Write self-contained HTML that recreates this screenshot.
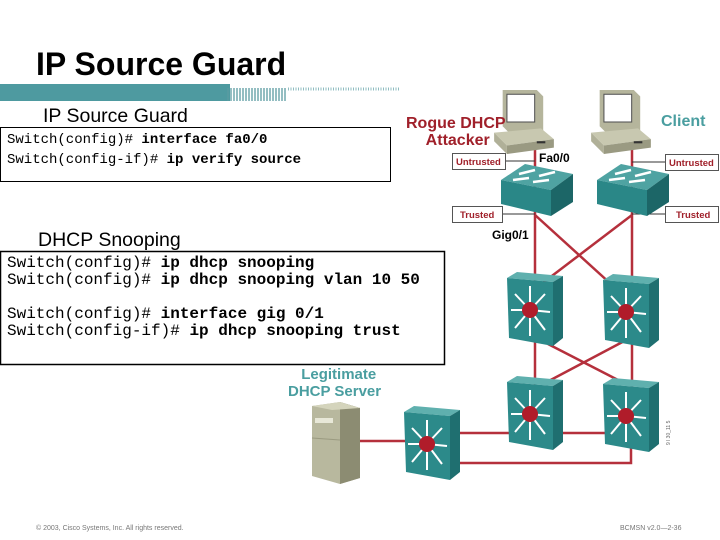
<!DOCTYPE html>
<html><head><meta charset="utf-8"><style>
body{margin:0;width:720px;height:540px;background:#fff;overflow:hidden;position:relative;font-family:"Liberation Sans",sans-serif}
.t{position:absolute;white-space:pre}
.mono{font-family:"Liberation Mono",monospace;font-size:14px;color:#000}
.mono b{font-weight:bold}
</style></head><body>
<svg width="720" height="540" style="position:absolute;left:0;top:0">
<defs>
<symbol id="ml" viewBox="0 0 60 76" width="60" height="76">
<polygon points="2,6 48,10 58,4 12,0" fill="#5fb0ae"/>
<polygon points="48,10 58,4 58,66 48,74" fill="#1f6f70"/>
<polygon points="2,6 48,10 48,74 4,66" fill="#2c8a8a"/>
<g stroke="#fff" stroke-width="2">
<line x1="25" y1="38" x2="25" y2="14"/><line x1="25" y1="38" x2="25" y2="64"/>
<line x1="25" y1="38" x2="6" y2="38"/><line x1="25" y1="38" x2="45" y2="40"/>
<line x1="25" y1="38" x2="10" y2="22"/><line x1="25" y1="38" x2="40" y2="22"/>
<line x1="25" y1="38" x2="10" y2="56"/><line x1="25" y1="38" x2="40" y2="58"/>
</g>
<ellipse cx="25" cy="38" rx="8" ry="8" fill="#b01c2a"/>
</symbol>
<symbol id="sw" viewBox="0 0 76 56" width="76" height="56">
<polygon points="2,16 52,26 74,10 26,0" fill="#4fa3a2"/>
<polygon points="2,16 52,26 52,52 2,40" fill="#2a8787"/>
<polygon points="52,26 74,10 74,38 52,52" fill="#1c6667"/>
<g stroke="#fff" stroke-width="2.5"><line x1="20" y1="10" x2="36" y2="6"/><line x1="40" y1="12" x2="56" y2="8"/><line x1="14" y1="16" x2="30" y2="14"/><line x1="34" y1="18" x2="50" y2="16"/></g>
</symbol>
<symbol id="pc" viewBox="0 0 56 60" width="56" height="60">
<polygon points="8,0 40,0 46,6 46,38 14,40 8,34" fill="#b5b59c"/>
<rect x="12" y="4" width="26" height="26" fill="#fff" stroke="#555"/>
<polygon points="0,40 44,36 56,46 12,52" fill="#c8c8b0"/>
<polygon points="12,52 56,46 56,54 12,60" fill="#9a9a82"/>
<polygon points="0,40 12,52 12,60 0,48" fill="#b0b098"/>
<rect x="40" y="48" width="8" height="2" fill="#333"/>
</symbol>
</defs>
<rect x="0" y="84" width="222" height="17" fill="#4e9aa0"/>
<polygon points="210,101 222,84 230,84 230,101" fill="#4e9aa0"/>
<g stroke="#5a9ca2" stroke-width="1.3">
<line x1="228" y1="88" x2="228" y2="101"/><line x1="231" y1="88" x2="231" y2="101"/><line x1="234" y1="88" x2="234" y2="101"/><line x1="237" y1="88" x2="237" y2="101"/><line x1="240" y1="88" x2="240" y2="101"/><line x1="243" y1="88" x2="243" y2="101"/><line x1="246" y1="88" x2="246" y2="101"/><line x1="249" y1="88" x2="249" y2="101"/><line x1="252" y1="88" x2="252" y2="101"/><line x1="255" y1="88" x2="255" y2="101"/><line x1="258" y1="88" x2="258" y2="101"/><line x1="261" y1="88" x2="261" y2="101"/><line x1="264" y1="88" x2="264" y2="101"/><line x1="267" y1="88" x2="267" y2="101"/><line x1="270" y1="88" x2="270" y2="101"/><line x1="273" y1="88" x2="273" y2="101"/><line x1="276" y1="88" x2="276" y2="101"/><line x1="279" y1="88" x2="279" y2="101"/><line x1="282" y1="88" x2="282" y2="101"/><line x1="285" y1="88" x2="285" y2="101"/>
</g>
<line x1="288" y1="89" x2="400" y2="89" stroke="#8fbcc0" stroke-width="3" stroke-dasharray="1 1.5"/>
<rect x="0.5" y="127.5" width="390" height="54" fill="#fff" stroke="#000"/>
<rect x="0.5" y="251.5" width="444" height="113" fill="#fff" stroke="#000" stroke-width="1.5"/>
<g stroke="#b5303c" stroke-width="2.5" fill="none">
<line x1="535" y1="150" x2="535" y2="290"/>
<line x1="632" y1="150" x2="632" y2="290"/>
<line x1="535" y1="215" x2="612" y2="285"/>
<line x1="632" y1="215" x2="540" y2="285"/>
<line x1="535" y1="340" x2="535" y2="400"/>
<line x1="632" y1="340" x2="632" y2="400"/>
<line x1="548" y1="344" x2="618" y2="380"/>
<line x1="630" y1="338" x2="545" y2="383"/>
<line x1="357" y1="441" x2="410" y2="441"/>
<line x1="455" y1="433" x2="520" y2="433"/>
<line x1="560" y1="433" x2="615" y2="433"/>
<polyline points="455,463 631,463 631,440"/>
</g>
<g stroke="#333" stroke-width="1"><line x1="506" y1="161" x2="535" y2="161"/><line x1="503" y1="214" x2="535" y2="214"/><line x1="632" y1="162" x2="665" y2="162"/><line x1="632" y1="214" x2="665" y2="214"/></g>
<use href="#pc" x="494" y="90" width="60" height="64"/>
<use href="#pc" x="591" y="90" width="60" height="64"/>
<use href="#sw" x="499" y="164"/>
<use href="#sw" x="595" y="164"/>
<use href="#ml" x="505" y="272"/>
<use href="#ml" x="601" y="274"/>
<use href="#ml" x="505" y="376"/>
<use href="#ml" x="601" y="378"/>
<use href="#ml" x="402" y="406"/>
<polygon points="312,406 340,402 360,408 360,478 340,484 312,476" fill="#b8b89e"/>
<polygon points="340,402 360,408 360,478 340,484" fill="#8c8c72"/>
<polygon points="312,406 340,402 360,408 332,410" fill="#d4d4bc"/>
<rect x="315" y="418" width="18" height="5" fill="#e8e8d8"/>
<line x1="312" y1="438" x2="340" y2="440" stroke="#9a9a80"/>
<g fill="#fff" stroke="#555"><rect x="452.5" y="153.5" width="53" height="16"/><rect x="452.5" y="206.5" width="50" height="16"/><rect x="665.5" y="154.5" width="53" height="16"/><rect x="665.5" y="206.5" width="53" height="16"/></g>
<g font-family="Liberation Sans" font-weight="bold" font-size="9.5" fill="#a0202a">
<text x="456" y="165">Untrusted</text><text x="460" y="218">Trusted</text><text x="669" y="166">Untrusted</text><text x="676" y="218">Trusted</text></g>
<text x="670" y="445" font-size="5" fill="#666" transform="rotate(-90 670 445)" font-family="Liberation Sans">9 l 30_11 5</text>
</svg>
<div class="t" style="left:36px;top:46px;font-size:32px;font-weight:bold">IP Source Guard</div>
<div class="t" style="left:43px;top:105px;font-size:19.5px">IP Source Guard</div>
<div class="t mono" style="left:7px;top:130px;line-height:20px">Switch(config)# <b>interface fa0/0</b>
Switch(config-if)# <b>ip verify source</b></div>
<div class="t" style="left:38px;top:229px;font-size:19.5px">DHCP Snooping</div>
<div class="t mono" style="left:7px;top:255px;line-height:17px;font-size:16px">Switch(config)# <b>ip dhcp snooping</b>
Switch(config)# <b>ip dhcp snooping vlan 10 50</b>

Switch(config)# <b>interface gig 0/1</b>
Switch(config-if)# <b>ip dhcp snooping trust</b></div>
<div class="t" style="left:406px;top:115px;font-size:16px;font-weight:bold;color:#a0202a;line-height:17px;text-align:center">Rogue DHCP
 Attacker</div>
<div class="t" style="left:661px;top:113px;font-size:16px;font-weight:bold;color:#4a9ea0">Client</div>
<div class="t" style="left:288px;top:366px;font-size:15px;font-weight:bold;color:#4a9ea0;line-height:17px;text-align:center">  Legitimate
DHCP Server</div>
<div class="t" style="left:539px;top:151px;font-size:12px;font-weight:bold">Fa0/0</div>
<div class="t" style="left:492px;top:228px;font-size:12px;font-weight:bold">Gig0/1</div>
<div class="t" style="left:36px;top:525px;font-size:7px;color:#777">© 2003, Cisco Systems, Inc. All rights reserved.</div>
<div class="t" style="left:620px;top:525px;font-size:7px;color:#777">BCMSN v2.0—2-36</div>
</body></html>
